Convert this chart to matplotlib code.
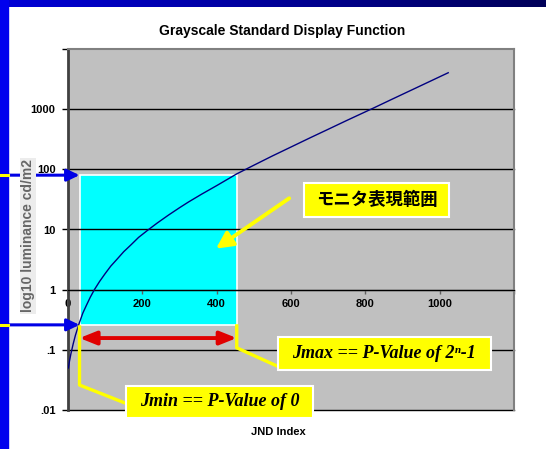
import matplotlib
matplotlib.use("Agg")
from matplotlib import pyplot as plt
from matplotlib.patches import Rectangle
from matplotlib.lines import Line2D
from matplotlib.colors import LinearSegmentedColormap
from matplotlib.ticker import FixedLocator, FixedFormatter
import matplotlib.transforms as mtransforms
import numpy as np

# GSDF curve (JND index -> luminance cd/m2)
JND = [1, 4, 8, 14, 20, 30, 40, 50, 60, 71, 85, 100, 115, 131, 150, 170, 190,
       216, 240, 270, 300, 324, 360, 400, 454, 500, 550, 600, 650, 700, 750,
       817, 870, 930, 980, 1023]
LUM = [0.05, 0.065, 0.087, 0.126, 0.175, 0.275, 0.41, 0.557, 0.75, 1.0, 1.37,
       1.85, 2.46, 3.16, 4.28, 5.6, 7.4, 9.9, 12.8, 17.3, 23.0, 28.6, 38.8,
       53.6, 84, 117, 167, 235, 331, 463, 649, 1010, 1445, 2160, 3020, 4030]

# monitor range (cyan box)
JMIN, JMAX = 31, 454
LMIN, LMAX = 0.26, 80

X_TICKS = [0, 200, 400, 600, 800, 1000, 1200]
X_LABELS = ['0', '200', '400', '600', '800', '1000', '']
Y_TICKS = [0.01, 0.1, 1, 10, 100, 1000, 10000]
Y_LABELS = ['.01', '.1', '1', '10', '100', '1000', '']

TITLE = 'Grayscale Standard Display Function'
XLABEL = 'JND Index'
YLABEL = 'log10 luminance cd/m2'
NOTE_RANGE = 'モニタ表現範囲'
NOTE_JMIN = 'Jmin == P-Value of 0'
NOTE_JMAX = 'Jmax == P-Value of 2ⁿ-1'

W, H = 546, 449
YELLOW = '#FFFF00'
SERIF = ['Liberation Serif', 'DejaVu Serif']
CJK = ['Noto Sans CJK JP', 'DejaVu Sans']

plt.rcParams['font.family'] = ['Liberation Sans', 'DejaVu Sans']
plt.rcParams['font.weight'] = 'bold'

fig = plt.figure(figsize=(W / 100, H / 100), dpi=100)
fig.patch.set_facecolor('white')


def fx(x):
    return x / W


def fy(y):
    return 1 - y / H


# slide decoration: blue strip on the left, dark gradient bar on top
fig.patches.append(Rectangle((0, 0), fx(7.5), 1, transform=fig.transFigure,
                             color='#0000EE', zorder=0))
bar = fig.add_axes([0, fy(7.5), 1, 7.5 / H])
bar.imshow(np.linspace(0, 1, 256)[None, :], aspect='auto',
           cmap=LinearSegmentedColormap.from_list('bar', ['#0000D8', '#000058']))
bar.axis('off')

ax = fig.add_axes([fx(68), fy(410), (514 - 68) / W, (410 - 49) / H])
ax.set_facecolor('#C0C0C0')
ax.set_yscale('log')
ax.set_xlim(0, 1200)
ax.set_ylim(0.01, 10000)

ax.xaxis.set_major_locator(FixedLocator(X_TICKS))
ax.xaxis.set_major_formatter(FixedFormatter(X_LABELS))
ax.yaxis.set_major_locator(FixedLocator(Y_TICKS))
ax.yaxis.set_major_formatter(FixedFormatter(Y_LABELS))
ax.yaxis.set_minor_locator(FixedLocator([]))
ax.tick_params(axis='y', direction='out', length=4, width=1, pad=5, labelsize=8)
ax.tick_params(axis='x', direction='out', length=3, width=1, pad=4, labelsize=8,
               color='#606060')
for lbl in ax.get_xticklabels():
    lbl.set_bbox(dict(facecolor='white', edgecolor='none', pad=1))

for v in Y_TICKS[:-1]:
    ax.axhline(v, color='black', lw=1, zorder=1.5, clip_on=False)

ax.spines['bottom'].set_position(('data', 1))
ax.spines['bottom'].set_color('black')
ax.spines['left'].set_color('#404040')
ax.spines['left'].set_linewidth(2)
for s in ['top', 'right']:
    ax.spines[s].set_color('#808080')
    ax.spines[s].set_linewidth(1.5)

ax.add_patch(Rectangle((JMIN, LMIN), JMAX - JMIN, LMAX - LMIN,
                       facecolor='#00FFFF', edgecolor='white', lw=1.2, zorder=1))
ax.plot(JND, LUM, color='#000080', lw=1, zorder=3)

# blue arrows from the slide edge to the range limits
trans = mtransforms.blended_transform_factory(fig.transFigure, ax.transData)
for lv in [LMAX, LMIN]:
    ax.annotate('', xy=(JMIN, lv), xycoords='data', xytext=(fx(7.5), lv),
                textcoords=('figure fraction', 'data'), annotation_clip=False,
                arrowprops=dict(arrowstyle='-|>,head_length=0.75,head_width=0.36',
                                color='#0000E6', lw=2.2, shrinkA=0, shrinkB=0))
    fig.add_artist(Line2D([0, fx(7.5)], [lv, lv], transform=trans,
                          color=YELLOW, lw=2.2, zorder=4))

# red double arrow between Jmin and Jmax
ax.annotate('', xy=(JMAX, 0.157), xytext=(JMIN, 0.157), annotation_clip=False,
            arrowprops=dict(arrowstyle='<|-|>,head_length=1.0,head_width=0.4',
                            color='#E00000', lw=2.8, shrinkA=0, shrinkB=0))

# yellow connectors to the note boxes
ax.plot([JMIN, JMIN, 153], [0.24, 0.026, 0.0131], color=YELLOW, lw=2.4,
        clip_on=False, zorder=4)
ax.plot([JMAX, JMAX, 562], [0.25, 0.108, 0.054], color=YELLOW, lw=2.4,
        clip_on=False, zorder=4)

# yellow arrow pointing into the monitor range
ax.annotate('', xy=(398, 4.8), xytext=(595, 33), annotation_clip=False,
            arrowprops=dict(arrowstyle='-|>,head_length=1.0,head_width=0.5',
                            color=YELLOW, lw=2.8, shrinkA=0, shrinkB=0), zorder=4)


def note(x0, y0, x1, y1, text, **kw):
    fig.patches.append(Rectangle((fx(x0), fy(y1)), (x1 - x0) / W, (y1 - y0) / H,
                                 transform=fig.transFigure, facecolor=YELLOW,
                                 edgecolor='white', lw=1.5, zorder=5))
    fig.text(fx((x0 + x1) / 2), fy((y0 + y1) / 2), text, ha='center',
             va='center', zorder=6, **kw)


note(304, 183, 449, 217, NOTE_RANGE, family=CJK, fontsize=12.5, fontweight='bold')
note(126, 386, 313, 418, NOTE_JMIN, family=SERIF, fontsize=13,
     fontweight='bold', style='italic')
note(277.5, 337, 491, 370, NOTE_JMAX, family=SERIF, fontsize=13,
     fontweight='bold', style='italic')

fig.text(fx(282), fy(31), TITLE, ha='center', va='center', fontsize=10)
fig.text(fx(278), fy(432), XLABEL, ha='center', va='center', fontsize=8)
fig.text(fx(28), fy(236), YLABEL, ha='center', va='center', rotation=90,
         fontsize=10, color='#666666',
         bbox=dict(facecolor='#ECECEC', edgecolor='none', pad=1))

fig.savefig('out.png', dpi=100)
